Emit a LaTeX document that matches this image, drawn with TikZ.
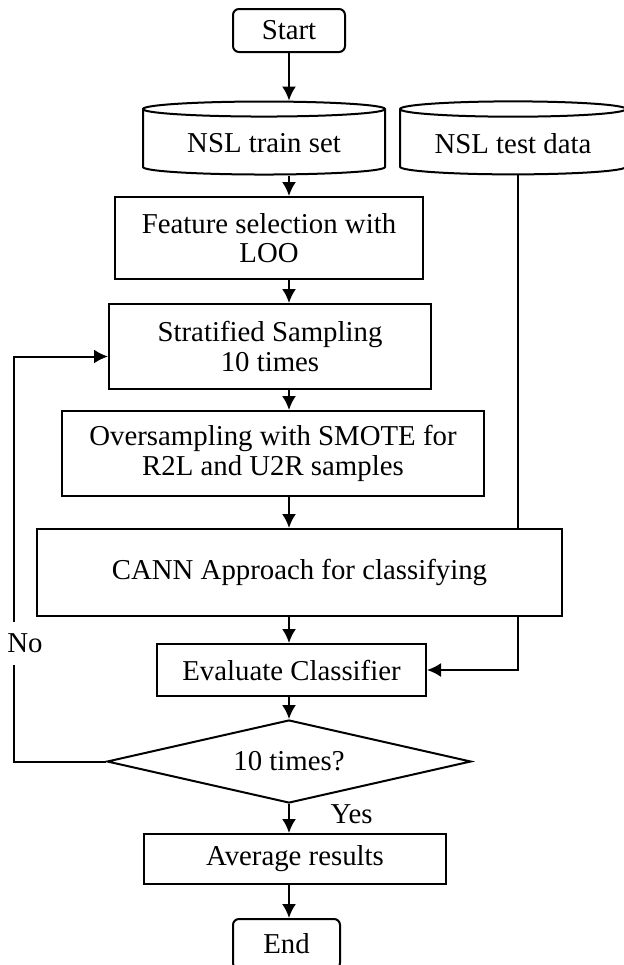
\documentclass[tikz,border=0pt]{standalone}
\usepackage{fontspec}
\setmainfont{Liberation Serif}
\usetikzlibrary{positioning}
\usetikzlibrary{arrows.meta}
\usetikzlibrary{shapes.geometric}
\tikzset{node distance=2cm,
    every node/.style={
        font=\fontsize{14.4}{14.6}\selectfont},
    box/.style={
        draw,
        line width=1pt,
        fill=white,
        align=center},
    terminal/.style={
        box,
        rounded corners=3pt},
    db/.style={
        draw,
        line width=1pt,
        fill=white,
        cylinder,
        shape border rotate=90,
        aspect=0.09},
    decision/.style={
        draw,
        line width=1pt,
        diamond,
        aspect=4.4,
        inner sep=0pt},
    >={Latex[length=7pt,width=7pt]},
    every edge/.style={
        draw,
        ->,
        line width=1pt}}

\begin{document}
\begin{tikzpicture}
        \useasboundingbox (0,0) rectangle (311.5pt,-482.5pt);
        \node[terminal,minimum width=56pt,minimum height=21.5pt] (start) at (144.5pt,-15.25pt) {Start};
        \node[db,below of=start,node distance=56.5pt,xshift=-12.5pt,minimum width=121pt,minimum height=36.5pt] (train) {NSL train set};
        \node[db,right of=train,node distance=124.5pt,minimum width=113pt,minimum height=36.5pt] (test) {NSL test data};
        \node[box,below of=train,node distance=47.25pt,xshift=2.5pt,minimum width=154pt,minimum height=41pt] (feat) {Feature selection with\\LOO};
        \node[box,below of=feat,node distance=54.25pt,xshift=0.5pt,minimum width=161pt,minimum height=42.5pt] (strat) {Stratified Sampling\\10 times};
        \node[box,below of=strat,node distance=53.5pt,xshift=1.5pt,minimum width=211pt,minimum height=42.5pt] (over) {Oversampling with SMOTE for\\R2L and U2R samples};
        \node[box,below of=over,node distance=59.5pt,xshift=13.25pt,minimum width=262.5pt,minimum height=43.5pt] (cann) {CANN Approach for classifying};
        \node[box,below of=cann,node distance=48.75pt,xshift=-4pt,minimum width=134.5pt,minimum height=26pt] (eval) {Evaluate Classifier};
        \node[decision,below of=eval,node distance=45.75pt,xshift=-1.25pt,minimum width=182pt,minimum height=41.5pt] (dec) {10 times?};
        \node[box,below of=dec,node distance=48.75pt,xshift=3pt,minimum width=151pt,minimum height=25pt] (avg) {Average results};
        \node[terminal,below of=avg,node distance=42.5pt,xshift=-4.25pt,minimum width=53.5pt,minimum height=25pt] (end) {End};

        \draw (start) edge (start |- train.north);
        \draw (train.south -| start) edge (feat.north -| start);
        \draw (feat.south -| start) edge (strat.north -| start);
        \draw (strat.south -| start) edge (over.north -| start);
        \draw (over.south -| start) edge (cann.north -| start);
        \draw (cann.south -| start) edge (eval.north -| start);
        \draw (eval.south -| start) edge (dec.north);
        \draw (dec.south) edge node[right=17pt,pos=0.35] {Yes} (dec.south |- avg.north);
        \draw (avg.south -| start) edge (end.north -| start);
        \draw[line width=1pt] ([xshift=2.5pt]test.south) -- ([xshift=2.5pt]test.south |- cann.north);
        \draw[line width=1pt,->] ([xshift=2.5pt]test.south |- cann.south) |- (eval.east);
        \draw[line width=1pt,->] (dec.west) -- ++(-46pt,0) |- ([yshift=-5pt]strat.west)
            node[pos=0.146,xshift=5.5pt,fill=white,inner xsep=1pt,inner ysep=6pt] {No};
    \end{tikzpicture}
\end{document}
